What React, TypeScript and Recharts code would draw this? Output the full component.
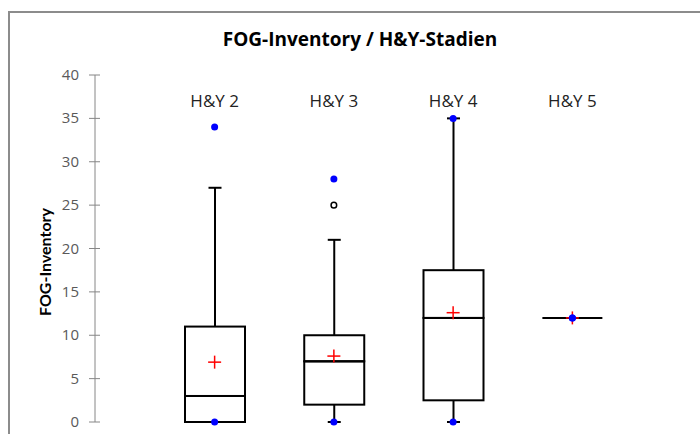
import React from 'react';
import {
  ComposedChart,
  Bar,
  Scatter,
  XAxis,
  YAxis,
} from 'recharts';

// Hoehn & Yahr stages
const categories = ['H&Y 2', 'H&Y 3', 'H&Y 4', 'H&Y 5'];

// FOG-Inventory box plot statistics per stage
const minValues = [0, 0, 0, 12];
const whiskerLow = [0, 0, 0, 12];
const q1Values = [0, 2, 2.5, 12];
const medianValues = [3, 7, 12, 12];
const q3Values = [11, 10, 17.5, 12];
const whiskerHigh = [27, 21, 35, 12];
const meanValues = [6.9, 7.6, 12.6, 12];
const maxValues = [34, 28, 35, 12];
const outlierValues: (number | null)[] = [null, 25, null, null];

const yTicks = [0, 5, 10, 15, 20, 25, 30, 35, 40];

const FONT = '"Open Sans", Lato, sans-serif';
const BOX_WIDTH = 60;
const CAP = 13;

// stacked segments: invisible base, lower whisker, lower box, upper box, upper whisker
const data = categories.map((name, i) => ({
  name,
  base: whiskerLow[i],
  lowerWhisker: q1Values[i] - whiskerLow[i],
  boxLow: medianValues[i] - q1Values[i],
  boxHigh: q3Values[i] - medianValues[i],
  upperWhisker: whiskerHigh[i] - q3Values[i],
  median: medianValues[i],
  mean: meanValues[i],
  min: minValues[i],
  max: maxValues[i],
  outlier: outlierValues[i],
}));

const UpperWhisker = (props: any) => {
  const { x, y, width, height } = props;
  if (!height || height <= 0) return null;
  const cx = x + width / 2;
  return (
    <g stroke="#000" strokeWidth={2}>
      <line x1={cx} y1={y} x2={cx} y2={y + height} />
      <line x1={cx - CAP / 2} y1={y} x2={cx + CAP / 2} y2={y} />
    </g>
  );
};

const LowerWhisker = (props: any) => {
  const { x, y, width, height } = props;
  if (!height || height <= 0) return null;
  const cx = x + width / 2;
  return (
    <g stroke="#000" strokeWidth={2}>
      <line x1={cx} y1={y} x2={cx} y2={y + height} />
      <line x1={cx - CAP / 2} y1={y + height} x2={cx + CAP / 2} y2={y + height} />
    </g>
  );
};

const BoxPart = (props: any) => {
  const { x, y, width, height } = props;
  if (!height || height <= 0) return null;
  return (
    <rect x={x} y={y} width={width} height={height} fill="#fff" stroke="#000" strokeWidth={2} />
  );
};

const valid = (p: any) => Number.isFinite(p.cx) && Number.isFinite(p.cy);

const MedianLine = (props: any) => {
  if (!valid(props)) return null;
  const { cx, cy } = props;
  return (
    <line x1={cx - BOX_WIDTH / 2} y1={cy} x2={cx + BOX_WIDTH / 2} y2={cy} stroke="#000" strokeWidth={2} />
  );
};

const MeanCross = (props: any) => {
  if (!valid(props)) return null;
  const { cx, cy } = props;
  return (
    <g stroke="#ff0000" strokeWidth={1.5}>
      <line x1={cx - 6.5} y1={cy} x2={cx + 6.5} y2={cy} />
      <line x1={cx} y1={cy - 6.5} x2={cx} y2={cy + 6.5} />
    </g>
  );
};

const BlueDot = (props: any) => {
  if (!valid(props)) return null;
  return <circle cx={props.cx} cy={props.cy} r={3.5} fill="#0000ff" />;
};

const OpenDot = (props: any) => {
  if (!valid(props) || props.payload?.outlier == null) return null;
  return <circle cx={props.cx} cy={props.cy} r={2.8} fill="#fff" stroke="#000" strokeWidth={1.5} />;
};

const YTick = (props: any) => {
  const { x, y, payload } = props;
  return (
    <g>
      <line x1={x + 10} y1={y} x2={x + 21} y2={y} stroke="#868686" strokeWidth={1} />
      <text x={x} y={y} dy={5} textAnchor="end" fill="#595959" fontSize={15} fontFamily={FONT}>
        {payload.value}
      </text>
    </g>
  );
};

// stage names sit inside the plot, just below its top edge
const CategoryTick = (props: any) => {
  const { x, y, payload } = props;
  return (
    <text x={x} y={y + 40} textAnchor="middle" fill="#222" fontSize={17} fontFamily={FONT}>
      {payload.value}
    </text>
  );
};

export default function App() {
  return (
    <div
      style={{
        position: 'absolute',
        left: 0,
        top: 0,
        width: 700,
        height: 434,
        background: '#fff',
        overflow: 'hidden',
      }}
    >
      <div
        style={{
          position: 'absolute',
          left: 8,
          top: 11,
          width: 720,
          height: 460,
          borderTop: '2px solid #8c8c8c',
          borderLeft: '2px solid #8c8c8c',
        }}
      />
      <div
        style={{
          position: 'absolute',
          left: 0,
          width: 720,
          top: 26,
          textAlign: 'center',
          fontFamily: FONT,
          fontWeight: 700,
          fontSize: 19,
          color: '#000',
        }}
      >
        FOG-Inventory / H&amp;Y-Stadien
      </div>
      <div
        style={{
          position: 'absolute',
          left: 44,
          top: 262,
          transform: 'translate(-50%, -50%) rotate(-90deg)',
          whiteSpace: 'nowrap',
          fontFamily: 'Lato, sans-serif',
          fontWeight: 700,
          fontSize: 16,
          color: '#000',
        }}
      >
        FOG-Inventory
      </div>
      <ComposedChart
        width={700}
        height={434}
        data={data}
        margin={{ top: 45, right: 8, bottom: 12, left: 0 }}
        style={{ position: 'absolute', left: 0, top: 0 }}
      >
        <XAxis
          dataKey="name"
          orientation="top"
          height={30}
          axisLine={false}
          tickLine={false}
          padding={{ left: 60, right: 60 }}
          tick={<CategoryTick />}
        />
        <YAxis
          type="number"
          domain={[0, 40]}
          ticks={yTicks}
          width={95}
          tickSize={6}
          tickMargin={10}
          tickLine={false}
          axisLine={{ stroke: '#868686' }}
          tick={<YTick />}
        />
        <Bar dataKey="base" stackId="box" barSize={BOX_WIDTH} fill="none" isAnimationActive={false} />
        <Bar dataKey="lowerWhisker" stackId="box" barSize={BOX_WIDTH} shape={<LowerWhisker />} isAnimationActive={false} />
        <Bar dataKey="boxLow" stackId="box" barSize={BOX_WIDTH} shape={<BoxPart />} isAnimationActive={false} />
        <Bar dataKey="boxHigh" stackId="box" barSize={BOX_WIDTH} shape={<BoxPart />} isAnimationActive={false} />
        <Bar dataKey="upperWhisker" stackId="box" barSize={BOX_WIDTH} shape={<UpperWhisker />} isAnimationActive={false} />
        <Scatter dataKey="median" shape={<MedianLine />} isAnimationActive={false} />
        <Scatter dataKey="mean" shape={<MeanCross />} isAnimationActive={false} />
        <Scatter dataKey="outlier" shape={<OpenDot />} isAnimationActive={false} />
        <Scatter dataKey="min" shape={<BlueDot />} isAnimationActive={false} />
        <Scatter dataKey="max" shape={<BlueDot />} isAnimationActive={false} />
      </ComposedChart>
    </div>
  );
}
